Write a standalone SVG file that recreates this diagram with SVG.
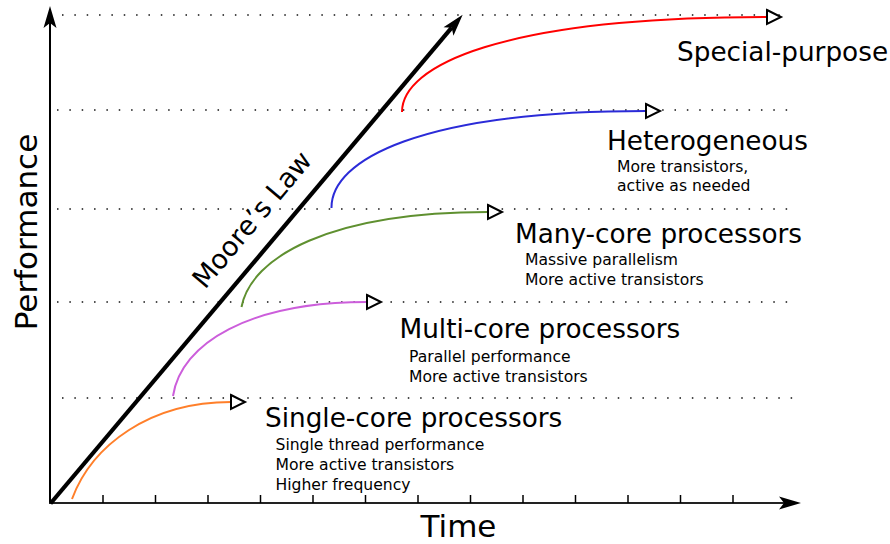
<svg xmlns="http://www.w3.org/2000/svg" width="890" height="544" viewBox="0 0 890 544">
<style>
text{font-family:"DejaVu Sans","Liberation Sans",sans-serif;fill:#000}
.title{font-size:26.3px}
.sub{font-size:15.6px}
.axislabel{font-size:31px}
.dots{stroke:#111;stroke-width:1.5;stroke-dasharray:1.5 10.85;fill:none}
.curve{fill:none;stroke-width:2;marker-end:url(#open)}
.tick{stroke:#000;stroke-width:1.5}
</style>
<defs>
<marker id="head" viewBox="-6 -8 24 16" markerWidth="24" markerHeight="16" refX="0" refY="0" orient="auto" markerUnits="userSpaceOnUse" overflow="visible">
<path d="M17,0 L-5,-6.5 L0,0 L-5,6.5 Z" fill="#000"/>
</marker>
<marker id="open" viewBox="-2 -9 18 18" markerWidth="18" markerHeight="18" refX="0" refY="0" orient="auto" markerUnits="userSpaceOnUse" overflow="visible">
<path d="M0,-7 L14,0 L0,7 Z" fill="#fff" stroke="#000" stroke-width="2" stroke-linejoin="miter"/>
</marker>
</defs>
<g id="gridlines">
<line class="dots" x1="62" y1="15" x2="790" y2="15"/>
<line class="dots" x1="57" y1="110" x2="792" y2="110"/>
<line class="dots" x1="57" y1="209" x2="798" y2="209"/>
<line class="dots" x1="57" y1="302" x2="796" y2="302"/>
<line class="dots" x1="62" y1="398" x2="800" y2="398"/>
</g>
<g id="axes">
<line x1="50" y1="504" x2="50" y2="23" stroke="#000" stroke-width="2" marker-end="url(#head)"/>
<line x1="49" y1="503" x2="784" y2="503" stroke="#222" stroke-width="2" marker-end="url(#head)"/>
<g id="ticks">
<line class="tick" x1="103" y1="495" x2="103" y2="503"/>
<line class="tick" x1="155.5" y1="495" x2="155.5" y2="503"/>
<line class="tick" x1="208" y1="495" x2="208" y2="503"/>
<line class="tick" x1="260.5" y1="495" x2="260.5" y2="503"/>
<line class="tick" x1="313" y1="495" x2="313" y2="503"/>
<line class="tick" x1="365.5" y1="495" x2="365.5" y2="503"/>
<line class="tick" x1="418" y1="495" x2="418" y2="503"/>
<line class="tick" x1="470.5" y1="495" x2="470.5" y2="503"/>
<line class="tick" x1="523" y1="495" x2="523" y2="503"/>
<line class="tick" x1="575.5" y1="495" x2="575.5" y2="503"/>
<line class="tick" x1="628" y1="495" x2="628" y2="503"/>
<line class="tick" x1="680.5" y1="495" x2="680.5" y2="503"/>
<line class="tick" x1="733" y1="495" x2="733" y2="503"/>
</g>
<text class="axislabel" transform="translate(37,232) rotate(-90)" text-anchor="middle">Performance</text>
<text class="axislabel" x="458.5" y="536.5" text-anchor="middle">Time</text>
</g>
<g id="connectors">
<line id="moore-line" x1="50.5" y1="503.5" x2="451.7" y2="27.7" stroke="#000" stroke-width="4.2" marker-end="url(#head)"/>
<path class="curve" stroke="#ff7f2a" d="M72,499 C92,445 150,402 231,402"/>
<path class="curve" stroke="#cc5edb" d="M173,396 C181,343 250,302 367,302"/>
<path class="curve" stroke="#5f9030" d="M241.5,307 C251,257 330,212 488,212"/>
<path class="curve" stroke="#2b2bd8" d="M331.5,208 C331,160 420,111 646,111"/>
<path class="curve" stroke="#ff0000" d="M402,112 C402,66 500,17 767,17"/>
</g>
<g id="moores-law">
<text transform="translate(205,290) rotate(-50)" font-size="27">Moore’s Law</text>
</g>
<g id="special-purpose">
<text class="title" x="677" y="61">Special-purpose</text>
</g>
<g id="heterogeneous">
<text class="title" x="607" y="150">Heterogeneous</text>
<text class="sub" x="617" y="171.5">More transistors,</text>
<text class="sub" x="617" y="191">active as needed</text>
</g>
<g id="many-core">
<text class="title" x="515" y="243">Many-core processors</text>
<text class="sub" x="525" y="265">Massive parallelism</text>
<text class="sub" x="525" y="285">More active transistors</text>
</g>
<g id="multi-core">
<text class="title" x="399.5" y="338">Multi-core processors</text>
<text class="sub" x="409" y="361.5">Parallel performance</text>
<text class="sub" x="409" y="381.5">More active transistors</text>
</g>
<g id="single-core">
<text class="title" x="265" y="427">Single-core processors</text>
<text class="sub" x="275.5" y="450">Single thread performance</text>
<text class="sub" x="275.5" y="470">More active transistors</text>
<text class="sub" x="275.5" y="490">Higher frequency</text>
</g>
</svg>
